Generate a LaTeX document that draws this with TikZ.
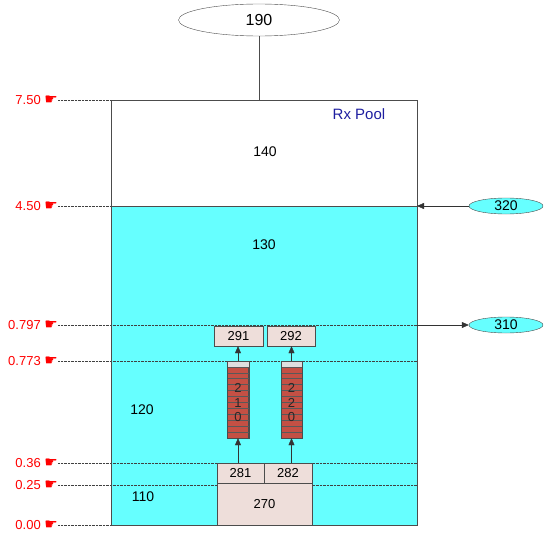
\documentclass[tikz,border=0pt]{standalone}
\usepackage{fontspec}
\setmainfont{Liberation Sans}
\newfontfamily\handfont{DejaVu Sans}
\usepackage{xcolor}
\usepackage{tikz}
\usetikzlibrary{arrows.meta,shapes.geometric}

\definecolor{water}{RGB}{102,255,255}
\definecolor{part}{RGB}{238,222,218}
\definecolor{brick}{RGB}{196,80,68}
\definecolor{poolblue}{RGB}{30,30,160}

\begin{document}
\begin{tikzpicture}[x=1pt,y=-1pt,
  bx/.style={draw=black!70,fill=part,inner sep=0pt,font=\fontsize{13}{13}\selectfont},
  el/.style={draw=black!70,ellipse,inner sep=0pt},
  lv/.style={anchor=east,text=red,inner sep=0pt,font=\fontsize{13}{13}\selectfont},
  dl/.style={densely dotted,black!75},
  ar/.style={-{Triangle[length=7pt,width=6pt]},black!80},
  txt/.style={font=\fontsize{14}{14}\selectfont}
]
\useasboundingbox (0,0) rectangle (544,535);

% pool
\fill[water] (111,206) rectangle (417,525);
\coordinate (top) at (259,100);
\coordinate (surf) at (417,206);
\coordinate (out) at (417,325);

% levels
\foreach \v/\y/\w in {7.50/100/111,4.50/206/111,0.797/325/417,0.773/361/417,0.36/463/417,0.25/485/417,0.00/525/111}{
  \node[lv] (l\y) at (58,\y) {\v\ {\handfont\fontsize{15}{15}\selectfont ☛}};
  \draw[dl] (l\y.east) -- (\w,\y);
}

\draw[black!70] (111,100) rectangle (417,525);
\draw[black!70] (111,206) -- (surf);

\node[el,minimum width=161pt,minimum height=32pt,font=\fontsize{16}{16}\selectfont] (e190) at (259,20) {190};
\draw[black!70] (e190) -- (top);

\node[text=poolblue,font=\fontsize{15}{15}\selectfont] (rx) at (359,114) {Rx Pool};
\node[txt] (t140) at (265,152) {140};
\node[txt] (t130) at (264,245) {130};
\node[txt] (t120) at (142,410) {120};
\node[txt] (t110) at (143,497) {110};

% parts
\node[bx,minimum width=95pt,minimum height=42pt] (b270) at (264.5,504) {270};
\node[bx,minimum width=47pt,minimum height=20pt] (b281) at (240.5,473) {281};
\node[bx,minimum width=48pt,minimum height=20pt] (b282) at (288,473) {282};
\node[bx,minimum width=49pt,minimum height=20pt] (b291) at (238.5,336) {291};
\node[bx,minimum width=48pt,minimum height=20pt] (b292) at (291,336) {292};

% stacks
\foreach \n/\x in {210/238,220/291.5}{
  \node[draw=black!70,fill=brick,minimum width=21pt,minimum height=77pt,inner sep=0pt] (s\n) at (\x,399.5) {};
  \fill[gray!25] (\x-10.5,361) rectangle (\x+10.5,367);
  \foreach \i in {0,...,11}
    \draw[black!65,line width=0.7pt] (\x-10.5,367+\i*5.92) -- (\x+10.5,367+\i*5.92);
  \draw[black!70] (s\n.north west) rectangle (s\n.south east);
}
\node[align=center,inner sep=0pt,font=\fontsize{13}{14.5}\selectfont,text=black!85] (d210) at (238,403) {2\\1\\0};
\node[align=center,inner sep=0pt,font=\fontsize{13}{14.5}\selectfont,text=black!85] (d220) at (291.5,403) {2\\2\\0};

\draw[ar] (b281.north -| s210) -- (s210.south);
\draw[ar] (s210.north) -- (b291.south -| s210);
\draw[ar] (b282.north -| s220) -- (s220.south);
\draw[ar] (s220.north) -- (b292.south -| s220);

% feeds
\node[el,fill=water,minimum width=74pt,minimum height=16pt,font=\fontsize{14}{14}\selectfont] (e320) at (506,206) {320};
\node[el,fill=water,minimum width=74pt,minimum height=16pt,font=\fontsize{14}{14}\selectfont] (e310) at (506,325) {310};
\draw[ar] (e320) -- (surf);
\draw[ar] (out) -- (e310);
\end{tikzpicture}
\end{document}
